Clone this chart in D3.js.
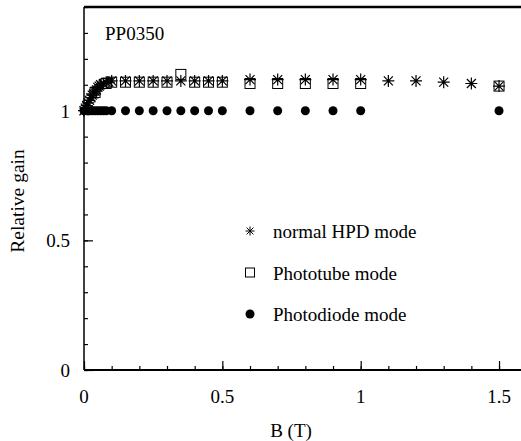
<!DOCTYPE html>
<html>
<head>
<meta charset="utf-8">
<script src="https://cdn.jsdelivr.net/npm/d3@7"></script>
<style>
  body { margin: 0; background: #fff; }
  text { font-family: "Liberation Serif", "DejaVu Serif", serif; fill: #000; }
</style>
</head>
<body>
<div id="chart"></div>
<script>
// normal HPD mode (asterisks)
var hpdB    = [0, 0.005, 0.01, 0.015, 0.02, 0.025, 0.03, 0.035, 0.04, 0.045, 0.05, 0.055, 0.06, 0.07, 0.08, 0.09, 0.1, 0.15, 0.2, 0.25, 0.3, 0.35, 0.4, 0.45, 0.5, 0.6, 0.7, 0.8, 0.9, 1.0, 1.1, 1.2, 1.3, 1.4, 1.5];
var hpdGain = [1.0, 1.01, 1.02, 1.03, 1.04, 1.05, 1.06, 1.065, 1.075, 1.08, 1.09, 1.095, 1.1, 1.105, 1.11, 1.11, 1.115, 1.115, 1.115, 1.115, 1.115, 1.115, 1.115, 1.115, 1.115, 1.12, 1.12, 1.12, 1.12, 1.12, 1.115, 1.115, 1.11, 1.105, 1.095];
// Phototube mode (squares)
var tubeB    = [0.04, 0.08, 0.1, 0.15, 0.2, 0.25, 0.3, 0.35, 0.4, 0.45, 0.5, 0.6, 0.7, 0.8, 0.9, 1.0, 1.5];
var tubeGain = [1.07, 1.105, 1.11, 1.11, 1.11, 1.11, 1.11, 1.14, 1.11, 1.11, 1.11, 1.105, 1.105, 1.105, 1.105, 1.105, 1.095];
// Photodiode mode (dots)
var diodeB    = [0, 0.01, 0.02, 0.03, 0.04, 0.05, 0.06, 0.07, 0.08, 0.1, 0.15, 0.2, 0.25, 0.3, 0.35, 0.4, 0.45, 0.5, 0.6, 0.7, 0.8, 0.9, 1.0, 1.5];
var diodeGain = [1.0, 1.0, 1.0, 1.0, 1.0, 1.0, 1.0, 1.0, 1.0, 1.0, 1.0, 1.0, 1.0, 1.0, 1.0, 1.0, 1.0, 1.0, 1.0, 1.0, 1.0, 1.0, 1.0, 1.0];

var xTicks = [0, 0.5, 1, 1.5];
var yTicks = [0, 0.5, 1];
var legendLabels = ["normal HPD mode", "Phototube mode", "Photodiode mode"];

var W = 521, H = 441;
var margin = {top: 7, left: 84, bottom: 71};
var plotH = H - margin.top - margin.bottom;   // 363
var plotW = 442.7;                             // right edge falls off the picture

var svg = d3.select("#chart").append("svg")
    .attr("width", W).attr("height", H);

var g = svg.append("g")
    .attr("transform", "translate(" + margin.left + "," + margin.top + ")");

var x = d3.scaleLinear().domain([0, 1.6]).range([0, plotW]);
var y = d3.scaleLinear().domain([0, 1.4]).range([plotH, 0]);

// minor ticks every 0.1, major ones labelled
var xMinor = d3.range(0, 1.61, 0.1).map(function(v) { return +v.toFixed(1); });
var yMinor = d3.range(0, 1.41, 0.1).map(function(v) { return +v.toFixed(1); });

var xAxisMinor = d3.axisTop(x).tickValues(xMinor).tickSize(4).tickFormat("");
var xAxisMajor = d3.axisTop(x).tickValues(xTicks).tickSize(9).tickFormat("");
var yAxisMinor = d3.axisRight(y).tickValues(yMinor).tickSize(4).tickFormat("");
var yAxisMajor = d3.axisRight(y).tickValues(yTicks).tickSize(9).tickFormat("");

function styleAxis(sel) {
  sel.select(".domain").remove();
  sel.selectAll("line").attr("stroke", "#000").attr("stroke-width", 1.2);
}

g.append("g").attr("transform", "translate(0," + plotH + ")").call(xAxisMinor).call(styleAxis);
g.append("g").attr("transform", "translate(0," + plotH + ")").call(xAxisMajor).call(styleAxis);
g.append("g").call(yAxisMinor).call(styleAxis);
g.append("g").call(yAxisMajor).call(styleAxis);

// frame
g.append("line").attr("x1", 0).attr("x2", plotW).attr("y1", plotH).attr("y2", plotH)
  .attr("stroke", "#000").attr("stroke-width", 2);
g.append("line").attr("x1", 0).attr("x2", 0).attr("y1", 0).attr("y2", plotH)
  .attr("stroke", "#000").attr("stroke-width", 1.5);
g.append("line").attr("x1", 0).attr("x2", plotW).attr("y1", 0).attr("y2", 0)
  .attr("stroke", "#000").attr("stroke-width", 2.5);

// tick labels
g.selectAll(".xlab").data(xTicks).enter().append("text")
  .attr("x", function(d) { return x(d); })
  .attr("y", plotH + 33)
  .attr("text-anchor", "middle")
  .attr("font-size", "19px")
  .text(function(d) { return d; });

g.selectAll(".ylab").data(yTicks).enter().append("text")
  .attr("x", -14)
  .attr("y", function(d) { return y(d) + 7; })
  .attr("text-anchor", "end")
  .attr("font-size", "19px")
  .text(function(d) { return d; });

// axis titles
svg.append("text")
  .attr("x", 291).attr("y", 437)
  .attr("text-anchor", "middle")
  .attr("font-size", "19px")
  .text("B (T)");

svg.append("text")
  .attr("transform", "translate(24,201) rotate(-90)")
  .attr("text-anchor", "middle")
  .attr("font-size", "19.5px")
  .text("Relative gain");

svg.append("text")
  .attr("x", 105).attr("y", 40)
  .attr("font-size", "19px")
  .text("PP0350");

// markers
function asterisk(sel, r, w) {
  var d = "M0," + (-r) + "L0," + r +
          "M" + (-r) + ",0L" + r + ",0" +
          "M" + (-r * 0.75) + "," + (-r * 0.75) + "L" + (r * 0.75) + "," + (r * 0.75) +
          "M" + (-r * 0.75) + "," + (r * 0.75) + "L" + (r * 0.75) + "," + (-r * 0.75);
  sel.append("path").attr("d", d).attr("stroke", "#000").attr("stroke-width", w).attr("fill", "none");
}

var hpd = hpdB.map(function(b, i) { return {b: b, v: hpdGain[i]}; });
var tube = tubeB.map(function(b, i) { return {b: b, v: tubeGain[i]}; });
var diode = diodeB.map(function(b, i) { return {b: b, v: diodeGain[i]}; });

g.selectAll(".dot").data(diode).enter().append("circle")
  .attr("cx", function(d) { return x(d.b); })
  .attr("cy", function(d) { return y(d.v); })
  .attr("r", 4.5)
  .attr("fill", "#000");

g.selectAll(".sq").data(tube).enter().append("rect")
  .attr("x", function(d) { return x(d.b) - 5; })
  .attr("y", function(d) { return y(d.v) - 5; })
  .attr("width", 10).attr("height", 10)
  .attr("fill", "none").attr("stroke", "#000").attr("stroke-width", 1);

g.selectAll(".ast").data(hpd).enter().append("g")
  .attr("transform", function(d) { return "translate(" + x(d.b) + "," + y(d.v) + ")"; })
  .each(function() { asterisk(d3.select(this), 6, 1.2); });

// legend
var leg = svg.append("g");
legendLabels.forEach(function(lab, i) {
  var ly = 231 + i * 41.5;
  var item = leg.append("g").attr("transform", "translate(250," + ly + ")");
  if (i === 0) asterisk(item, 4.5, 1);
  if (i === 1) item.append("rect").attr("x", -4.5).attr("y", -4.5).attr("width", 9).attr("height", 9)
                 .attr("fill", "none").attr("stroke", "#000").attr("stroke-width", 1);
  if (i === 2) item.append("circle").attr("r", 4.5).attr("fill", "#000");
  leg.append("text")
    .attr("x", 273).attr("y", ly + 7)
    .attr("font-size", "19px")
    .text(lab);
});
</script>
</body>
</html>
